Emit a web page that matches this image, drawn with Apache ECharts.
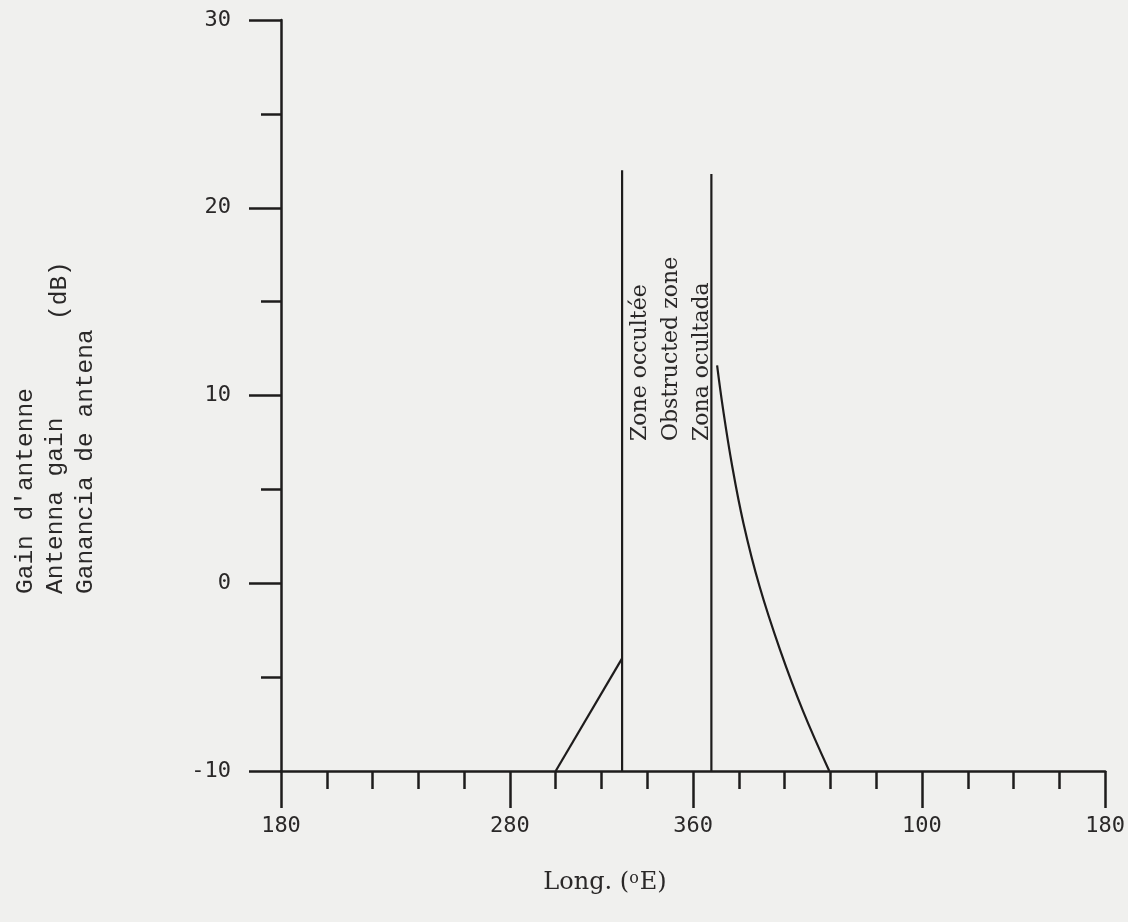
<!DOCTYPE html>
<html>
<head>
<meta charset="utf-8">
<title>Gain d'antenne / Antenna gain</title>
<script src="https://cdn.jsdelivr.net/npm/echarts@6/dist/echarts.min.js"></script>
<style>
  html, body { margin: 0; padding: 0; background: #f0f0ee; }
  #chart { width: 1128px; height: 922px; }
</style>
</head>
<body>
<div id="chart"></div>
<script>
// Longitude axis runs 180 -> 360 -> 180 (°E), stored as 180..540
const lonMin = 180;
const lonMax = 540;
const lonTickStep = 20;
const lonLabelValues = [180, 280, 360, 460, 540];

// Gain axis (dB)
const gainMin = -10;
const gainMax = 30;
const gainStep = 10;

// Rising leg west of the obstructed zone
const westLegLon = [300, 329];
const westLegGain = [-10, -4];

// Boundaries of the obstructed zone
const zoneWestLon = 329;
const zoneEastLon = 368;
const zoneWestTop = 22;
const zoneEastTop = 21.8;

// Falling gain curve east of the obstructed zone
const eastCurveLon = [370.5, 373, 377, 382, 389, 398, 408, 419.5];
const eastCurveGain = [11.6, 9.35, 6.3, 3.2, -0.15, -3.55, -6.8, -10];

const zoneLabels = ['Zone occultée', 'Obstructed zone', 'Zona ocultada'];
const gainTitleLines = ["Gain d'antenne", 'Antenna gain', 'Ganancia de antena'];

const INK = '#1e1c1c';
const TEXT = '#2a2828';
const pairs = (xs, ys) => xs.map((x, i) => [x, ys[i]]);
const lonText = v => String(v > 360 ? v - 360 : v);

const allLonTicks = [];
for (let v = lonMin; v <= lonMax; v += lonTickStep) allLonTicks.push(v);

const chart = echarts.init(document.getElementById('chart'));

const lineSeries = (data) => ({
  type: 'line',
  data: data,
  symbol: 'none',
  silent: true,
  lineStyle: { color: INK, width: 2.2 },
  z: 3
});

chart.setOption({
  backgroundColor: '#f0f0ee',
  animation: false,
  grid: { left: 281, right: 22, top: 20, bottom: 151 },
  xAxis: [
    {
      type: 'value',
      min: lonMin,
      max: lonMax,
      interval: lonTickStep,
      splitLine: { show: false },
      axisLine: { onZero: false, lineStyle: { color: INK, width: 2.5 } },
      axisTick: { customValues: allLonTicks, length: 18, lineStyle: { color: INK, width: 2.5 } },
      axisLabel: {
        customValues: lonLabelValues,
        formatter: lonText,
        margin: 44,
        color: TEXT,
        fontFamily: 'DejaVu Sans Mono',
        fontSize: 22
      }
    },
    {
      type: 'value',
      position: 'bottom',
      min: lonMin,
      max: lonMax,
      splitLine: { show: false },
      axisLine: { show: false, onZero: false },
      axisLabel: { show: false },
      axisTick: { customValues: lonLabelValues, length: 37, lineStyle: { color: INK, width: 2.5 } }
    }
  ],
  yAxis: {
    type: 'value',
    min: gainMin,
    max: gainMax,
    interval: gainStep,
    splitLine: { show: false },
    axisLine: { onZero: false, lineStyle: { color: INK, width: 2.5 } },
    axisTick: { length: 32, lineStyle: { color: INK, width: 2.5 } },
    minorTick: { show: true, splitNumber: 2, length: 20, lineStyle: { color: INK, width: 2.5 } },
    minorSplitLine: { show: false },
    axisLabel: {
      margin: 50,
      color: TEXT,
      fontFamily: 'DejaVu Sans Mono',
      fontSize: 22
    }
  },
  series: [
    lineSeries(pairs(westLegLon, westLegGain)),
    lineSeries([[zoneWestLon, gainMin], [zoneWestLon, zoneWestTop]]),
    lineSeries([[zoneEastLon, gainMin], [zoneEastLon, zoneEastTop]]),
    Object.assign(lineSeries(pairs(eastCurveLon, eastCurveGain)), { smooth: 0.4 })
  ],
  graphic: [
    // Zone captions, reading upward between the two boundaries
    ...zoneLabels.map((t, i) => ({
      type: 'text',
      x: 640 + i * 31,
      y: 441,
      rotation: Math.PI / 2,
      style: {
        text: t,
        font: '22px "DejaVu Serif"',
        fill: TEXT,
        textAlign: 'left',
        textVerticalAlign: 'middle'
      }
    })),
    // Vertical axis title
    ...gainTitleLines.map((t, i) => ({
      type: 'text',
      x: 26 + i * 30,
      y: 594,
      rotation: Math.PI / 2,
      style: {
        text: t,
        font: '24.5px "Liberation Mono"',
        fill: TEXT,
        textAlign: 'left',
        textVerticalAlign: 'middle'
      }
    })),
    {
      type: 'text',
      x: 60,
      y: 320,
      rotation: Math.PI / 2,
      style: {
        text: '(dB)',
        font: '24.5px "Liberation Mono"',
        fill: TEXT,
        textAlign: 'left',
        textVerticalAlign: 'middle'
      }
    },
    // Horizontal axis title
    {
      type: 'text',
      x: 605,
      y: 883,
      style: {
        text: '{t|Long. (}{s|o}{t|E)}',
        rich: {
          t: { font: '24px "DejaVu Serif"', fill: TEXT },
          s: { font: '16px "DejaVu Serif"', fill: TEXT, verticalAlign: 'top', padding: [0, 1, 9, 0] }
        },
        textAlign: 'center',
        textVerticalAlign: 'middle'
      }
    }
  ]
});
</script>
</body>
</html>
